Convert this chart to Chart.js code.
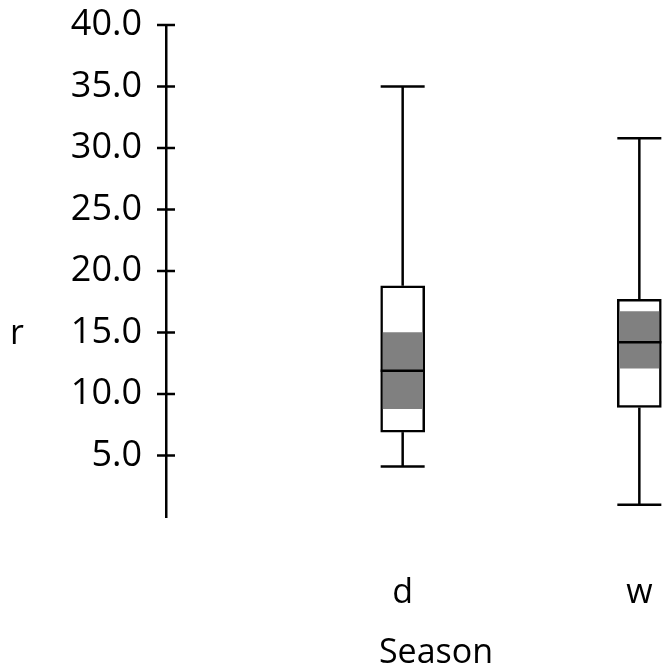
<!DOCTYPE html>
<html>
<head>
<meta charset="utf-8">
<script src="https://cdn.jsdelivr.net/npm/chart.js@4/dist/chart.umd.min.js"></script>
<style>
  html, body { margin: 0; padding: 0; background: #ffffff; }
  #wrap { width: 663px; height: 672px; }
</style>
</head>
<body>
<div id="wrap"><canvas id="c" width="663" height="672"></canvas></div>
<script>
// ---- data ----
const categories = ['d', 'w'];
const whiskerLow  = [4.1, 1.0];
const q1          = [6.9, 8.9];
const ciLow       = [8.8, 12.1];
const median      = [11.9, 14.2];
const ciHigh      = [15.0, 16.7];
const q3          = [18.8, 17.7];
const whiskerHigh = [35.0, 30.8];
const yTicks = [5, 10, 15, 20, 25, 30, 35, 40];
const xTitle = 'Season';
const yTitle = 'r';

// ---- style ----
const FONT = "'Open Sans', 'Noto Sans', sans-serif";
const FS_TICK = 36;
const FS = 34;
const BOX_W = 44;
const GREY = '#808080';

const boxPlugin = {
  id: 'boxPlugin',
  afterDatasetsDraw(chart) {
    const ctx = chart.ctx;
    const xs = chart.scales.x, ys = chart.scales.y;
    ctx.save();
    ctx.strokeStyle = '#000';
    ctx.lineWidth = 2.5;
    categories.forEach((c, i) => {
      const x = xs.getPixelForValue(i + 1);
      const h = BOX_W / 2;
      const line = (x1, y1, x2, y2) => { ctx.beginPath(); ctx.moveTo(x1, y1); ctx.lineTo(x2, y2); ctx.stroke(); };
      // whiskers
      line(x, ys.getPixelForValue(q3[i]), x, ys.getPixelForValue(whiskerHigh[i]));
      line(x, ys.getPixelForValue(q1[i]), x, ys.getPixelForValue(whiskerLow[i]));
      line(x - h, ys.getPixelForValue(whiskerHigh[i]), x + h, ys.getPixelForValue(whiskerHigh[i]));
      line(x - h, ys.getPixelForValue(whiskerLow[i]), x + h, ys.getPixelForValue(whiskerLow[i]));
      // median
      line(x - h, ys.getPixelForValue(median[i]), x + h, ys.getPixelForValue(median[i]));
    });
    // y tick marks crossing the axis
    const ax = ys.right;
    yTicks.forEach(v => {
      const y = ys.getPixelForValue(v);
      ctx.beginPath(); ctx.moveTo(ax - 9, y); ctx.lineTo(ax + 9, y); ctx.stroke();
    });
    // axis titles
    ctx.fillStyle = '#000';
    ctx.font = FS + 'px ' + FONT;
    ctx.textAlign = 'center';
    ctx.textBaseline = 'middle';
    ctx.fillText(yTitle, 17, 334);
    ctx.fillText(xTitle, 436, 653);
    ctx.restore();
  }
};

const boxData = categories.map((c, i) => ({ x: i + 1, y: [q1[i], q3[i]] }));
const ciData  = categories.map((c, i) => ({ x: i + 1, y: [ciLow[i], ciHigh[i]] }));

new Chart(document.getElementById('c'), {
  type: 'bar',
  data: {
    datasets: [
      { label: 'box', data: boxData, backgroundColor: '#ffffff', borderColor: '#000000',
        borderWidth: 2.5, borderSkipped: false, barThickness: BOX_W, grouped: false, order: 2 },
      { label: 'ci', data: ciData, backgroundColor: GREY, borderWidth: 0,
        barThickness: BOX_W - 5, grouped: false, order: 1 }
    ]
  },
  options: {
    responsive: false,
    animation: false,
    layout: { padding: { top: 25, right: 0, left: 0, bottom: 0 } },
    plugins: { legend: { display: false }, tooltip: { enabled: false } },
    scales: {
      x: {
        type: 'linear', min: 0, max: 2.1, offset: false,
        grid: { display: false, drawTicks: false },
        border: { display: false },
        afterBuildTicks: (s) => { s.ticks = categories.map((c, i) => ({ value: i + 1 })); },
        ticks: { color: '#000', font: { family: FONT, size: FS }, padding: 56,
                 maxRotation: 0, autoSkip: false,
                 callback: (v) => categories[v - 1] ?? '' },
        afterFit: (s) => { s.height = 155; s.paddingLeft = 0; s.paddingRight = 0; }
      },
      y: {
        min: 0, max: 40,
        grid: { display: false, drawTicks: false },
        border: { display: true, color: '#000', width: 2.5 },
        afterBuildTicks: (s) => { s.ticks = yTicks.map(v => ({ value: v })); },
        ticks: { color: '#000', font: { family: FONT, size: FS_TICK }, padding: 24,
                 callback: (v) => v.toFixed(1) },
        afterFit: (s) => { s.width = 166; s.paddingTop = 0; s.paddingBottom = 0; }
      }
    }
  },
  plugins: [boxPlugin]
});
</script>
</body>
</html>
